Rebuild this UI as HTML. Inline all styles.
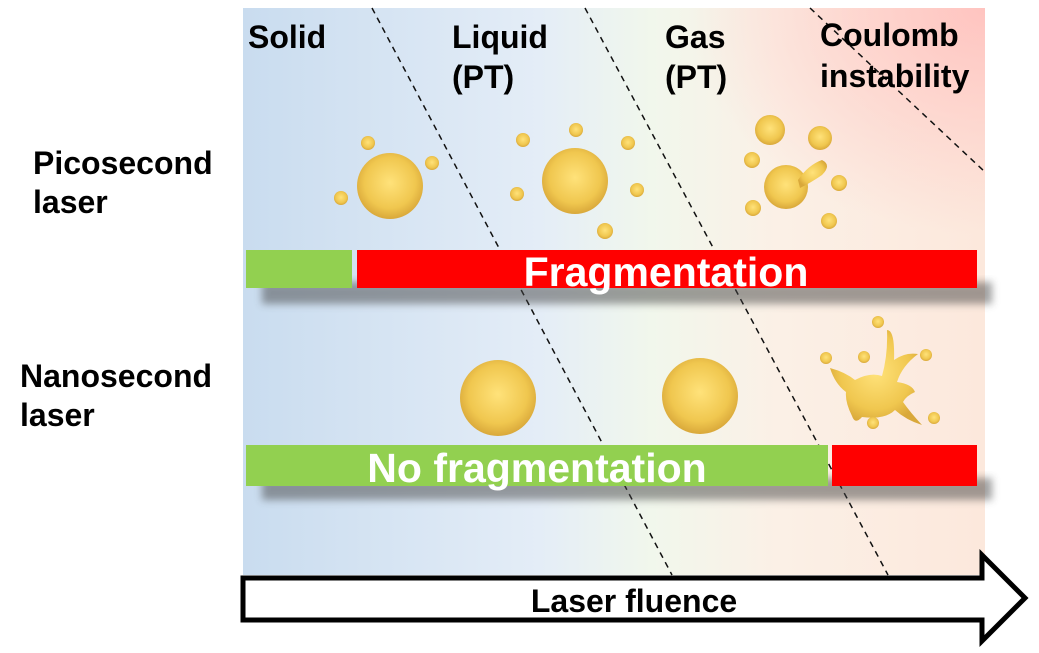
<!DOCTYPE html>
<html><head><style>
body{margin:0;background:#fff;width:1039px;height:648px;overflow:hidden}
text{font-family:"Liberation Sans",sans-serif;font-weight:bold}
</style></head><body>
<svg width="1039" height="648" viewBox="0 0 1039 648">
<defs>
<linearGradient id="bg" x1="0" y1="0" x2="1" y2="0">
<stop offset="0" stop-color="#c9dcef"/>
<stop offset="0.4" stop-color="#e4edf7"/>
<stop offset="0.55" stop-color="#f1f7ec"/>
<stop offset="0.72" stop-color="#fbf0e6"/>
<stop offset="1" stop-color="#fce8dc"/>
</linearGradient>
<radialGradient id="pk" cx="1" cy="0" r="0.4">
<stop offset="0" stop-color="#ffc4c0"/><stop offset="1" stop-color="#ffc8c4" stop-opacity="0"/>
</radialGradient>
<radialGradient id="au" cx="0.5" cy="0.45" r="0.55">
<stop offset="0" stop-color="#ffe27a"/><stop offset="0.7" stop-color="#f0c74f"/><stop offset="1" stop-color="#d9a83a"/>
</radialGradient>
<filter id="sh" x="-5%" y="-30%" width="115%" height="200%"><feGaussianBlur stdDeviation="4"/></filter>
</defs>
<rect x="243" y="8" width="742" height="567" fill="url(#bg)"/>
<rect x="243" y="8" width="742" height="567" fill="url(#pk)"/>
<g stroke="#111" stroke-width="1.5" stroke-dasharray="6,5">
<line x1="372" y1="8" x2="672" y2="575"/>
<line x1="585" y1="8" x2="888" y2="575"/>
<line x1="810" y1="8" x2="985" y2="172"/>
</g>
<g font-size="32" fill="#000">
<text x="248" y="48">Solid</text>
<text x="452" y="48">Liquid</text><text x="452" y="88">(PT)</text>
<text x="665" y="48">Gas</text><text x="665" y="88">(PT)</text>
<text x="820" y="46">Coulomb</text><text x="820" y="87">instability</text>
<text x="33" y="174">Picosecond</text><text x="33" y="213">laser</text>
<text x="20" y="387">Nanosecond</text><text x="20" y="426">laser</text>
</g>
<g fill="url(#au)">
<circle cx="390" cy="186" r="33"/><circle cx="368" cy="143" r="7"/><circle cx="432" cy="163" r="7"/><circle cx="341" cy="198" r="7"/>
<circle cx="575" cy="181" r="33"/><circle cx="523" cy="140" r="7"/><circle cx="576" cy="130" r="7"/><circle cx="628" cy="143" r="7"/><circle cx="517" cy="194" r="7"/><circle cx="637" cy="190" r="7"/><circle cx="605" cy="231" r="8"/>
<circle cx="770" cy="130" r="15"/><circle cx="820" cy="138" r="12"/><circle cx="786" cy="187" r="22"/>
<path d="M798 180 Q808 165 822 160 Q832 165 822 175 Q812 182 800 188 Z"/>
<circle cx="752" cy="160" r="8"/><circle cx="839" cy="183" r="8"/><circle cx="753" cy="208" r="8"/><circle cx="829" cy="221" r="8"/>
<circle cx="498" cy="398" r="38"/><circle cx="700" cy="396" r="38"/>
<path d="M830 368 Q845 372 855 380 Q870 372 882 376 Q888 355 887 330 Q895 330 894 360 Q905 352 918 354 Q902 366 897 382 Q912 384 915 392 Q906 396 903 402 Q910 412 922 425 Q906 420 895 410 Q885 420 862 417 Q855 425 852 416 Q845 402 846 392 Q835 384 830 368 Z"/>
<circle cx="878" cy="322" r="6"/><circle cx="826" cy="358" r="6"/><circle cx="864" cy="357" r="6"/><circle cx="926" cy="355" r="6"/><circle cx="873" cy="423" r="6"/><circle cx="934" cy="418" r="6"/>
</g>
<rect x="262" y="282" width="730" height="22" fill="#444" opacity="0.5" filter="url(#sh)"/>
<rect x="262" y="478" width="730" height="22" fill="#444" opacity="0.5" filter="url(#sh)"/>
<rect x="246" y="250" width="106" height="38" fill="#92d050"/>
<rect x="357" y="250" width="620" height="38" fill="#ff0000"/>
<text x="666" y="286" font-size="41" fill="#fff" text-anchor="middle">Fragmentation</text>
<rect x="246" y="445" width="582" height="41" fill="#92d050"/>
<rect x="832" y="445" width="145" height="41" fill="#ff0000"/>
<text x="537" y="482" font-size="41" fill="#fff" text-anchor="middle">No fragmentation</text>
<path d="M243 578 L982 578 L982 555 L1025 598 L982 641 L982 620 L243 620 Z" fill="#fff" stroke="#000" stroke-width="5" stroke-linejoin="miter"/>
<text x="634" y="612" font-size="32" fill="#000" text-anchor="middle">Laser fluence</text>
</svg>
</body></html>
